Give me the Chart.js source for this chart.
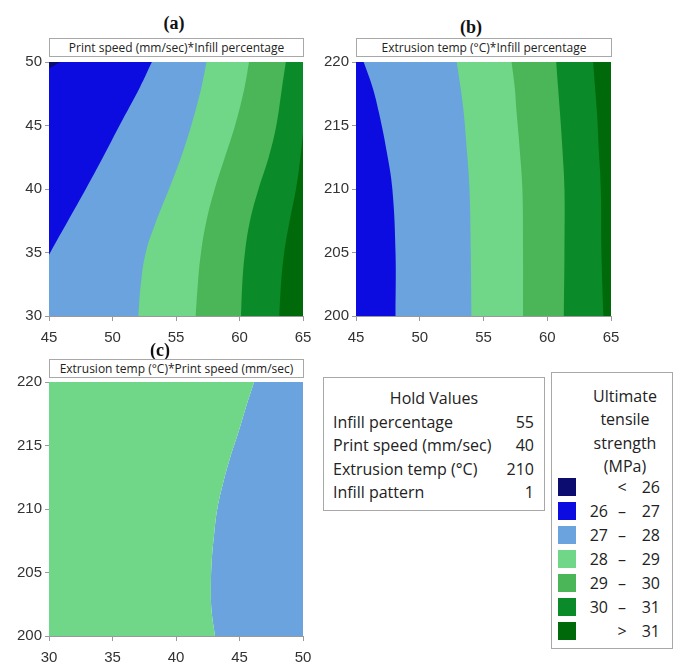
<!DOCTYPE html>
<html>
<head>
<meta charset="utf-8">
<script src="https://cdn.jsdelivr.net/npm/chart.js@4.4.1/dist/chart.umd.min.js"></script>
<style>
  body { margin: 0; background: #fff; font-family: "Open Sans", sans-serif; color: #222; }
  #page { position: relative; width: 680px; height: 662px; overflow: hidden; }
  canvas { position: absolute; }
  .tag { position: absolute; font: bold 18px "Liberation Serif", serif; transform: translate(-50%, -50%); color: #111; }
  .head { position: absolute; height: 19px; border: 1px solid #a8a8a8; box-sizing: border-box; background: #fff;
          font-size: 12px; line-height: 18px; text-align: center; white-space: nowrap; color: #222; }
  .box { position: absolute; border: 1px solid #a8a8a8; box-sizing: border-box; font-size: 16px; background: #fff; }
  .line { position: absolute; white-space: nowrap; line-height: 24px; }
  .sw { position: absolute; width: 18px; height: 18px; }
</style>
</head>
<body>
<div id="page">
  <canvas id="chartA" width="330" height="300" style="left:0;top:50px"></canvas>
  <canvas id="chartB" width="340" height="300" style="left:300px;top:50px"></canvas>
  <canvas id="chartC" width="330" height="300" style="left:0;top:370px"></canvas>

  <div class="tag" style="left:174px;top:23px">(a)</div>
  <div class="tag" style="left:471px;top:27px">(b)</div>
  <div class="tag" style="left:160px;top:350px">(c)</div>

  <div class="head" style="left:49px;top:38px;width:255px">Print speed (mm/sec)*Infill percentage</div>
  <div class="head" style="left:356px;top:38px;width:256px">Extrusion temp (°C)*Infill percentage</div>
  <div class="head" style="left:49px;top:359px;width:255px">Extrusion temp (°C)*Print speed (mm/sec)</div>

  <div id="hold" class="box" style="left:323px;top:377px;width:222px;height:134px"></div>
  <div id="key" class="box" style="left:551px;top:372px;width:122px;height:277px"></div>
</div>
<script>
// band colours, left to right (low to high strength)
const colors = ['#0b0b70', '#0c0ce0', '#6aa3dd', '#6fd787', '#4ab657', '#0a8a29', '#006a0b'];
const keyLabels = [['', '<', '26'], ['26', '–', '27'], ['27', '–', '28'], ['28', '–', '29'],
                   ['29', '–', '30'], ['30', '–', '31'], ['', '>', '31']];
const holdNames = ['Infill percentage', 'Print speed (mm/sec)', 'Extrusion temp (°C)', 'Infill pattern'];
const holdValues = [55, 40, 210, 1];

const infillTicks = [45, 50, 55, 60, 65];
const speedTicks = [30, 35, 40, 45, 50];
const tempTicks = [200, 205, 210, 215, 220];

// (a) print speed vs infill: infill value at the right edge of each band, per print speed
const speedA = [30, 32.5, 35, 37.5, 40, 42.5, 45, 48, 50];
const aNavySpeed = [30, 48, 49.5, 50];
const aNavyEdge = [20, 42.3, 45, 45.9];
const aBlueEdge = [42.4, 43.8, 45.1, 46.5, 47.9, 49.25, 50.55, 52.15, 53.1];
const aLightBlueEdge = [52.03, 52.23, 52.62, 53.45, 54.45, 55.4, 56.2, 57.0, 57.4];
const aLightGreenEdge = [56.55, 56.72, 56.97, 57.4, 58.05, 58.85, 59.65, 60.4, 60.75];
const aMidGreenEdge = [60.12, 60.22, 60.43, 60.83, 61.5, 62.3, 62.9, 63.35, 63.65];
const aGreenSpeed = [30, 32.5, 35, 37.5, 40, 42.5, 44.4, 47, 50];
const aGreenEdge = [63.13, 63.27, 63.52, 63.95, 64.45, 64.8, 65, 65.3, 65.6];

// (b) extrusion temp vs infill
const tempB = [200, 205, 210, 213, 216, 218, 220];
const bBlueEdge = [48.1, 48.1, 47.85, 47.4, 46.8, 46.3, 45.6];
const bLightBlueEdge = [54.05, 54.0, 53.9, 53.7, 53.45, 53.2, 52.9];
const bLightGreenEdge = [58.1, 58.1, 58.05, 57.85, 57.6, 57.45, 57.2];
const bMidGreenEdge = [61.3, 61.35, 61.35, 61.2, 61.0, 60.85, 60.7];
const bGreenEdge = [64.4, 64.25, 64.2, 64.05, 63.9, 63.75, 63.6];

// (c) extrusion temp vs print speed
const tempC = [200, 202, 204, 206, 208, 210, 212, 214, 216, 218, 220];
const cLightGreenEdge = [43.07, 42.8, 42.75, 42.82, 43.0, 43.25, 43.7, 44.25, 44.9, 45.5, 46.15];

const pts = (xs, ys) => xs.map((x, i) => ({ x: x, y: ys[i] }));

function contour(id, bands, topColor, xTicks, yTicks, pad, yWidth) {
  const xMin = xTicks[0], xMax = xTicks[xTicks.length - 1];
  const datasets = bands.map(b => ({
    data: pts(b.x, b.y), fill: { value: xMin }, backgroundColor: b.color
  }));
  // bottom layer: everything right of the first edge
  datasets.push({ data: pts(bands[0].x, bands[0].y), fill: { value: xMax }, backgroundColor: topColor });
  const axis = (ticks, fit, len, padding) => ({
    type: 'linear', min: ticks[0], max: ticks[ticks.length - 1],
    afterBuildTicks: s => { s.ticks = ticks.map(v => ({ value: v })); },
    afterFit: fit,
    grid: { drawOnChartArea: false, drawTicks: true, tickLength: len, color: '#9a9a9a' },
    border: { color: '#9a9a9a' },
    ticks: { color: '#333', padding: padding, maxRotation: 0, autoSkip: false, font: { size: 15 } }
  });
  new Chart(document.getElementById(id), {
    type: 'line',
    data: { datasets: datasets },
    options: {
      indexAxis: 'y',
      responsive: false,
      animation: false,
      events: [],
      layout: { padding: pad },
      elements: {
        line: { borderWidth: 0, tension: 0.4, capBezierPoints: false },
        point: { radius: 0 }
      },
      plugins: { legend: { display: false }, tooltip: { enabled: false } },
      scales: {
        x: axis(xTicks, s => { s.height = 34; s.paddingLeft = 0; s.paddingRight = 0; }, 5, 8),
        y: axis(yTicks, s => { s.width = yWidth; }, 4, 3)
      }
    }
  });
}

contour('chartA', [
  { x: aNavyEdge, y: aNavySpeed, color: colors[0] },
  { x: aBlueEdge, y: speedA, color: colors[1] },
  { x: aLightBlueEdge, y: speedA, color: colors[2] },
  { x: aLightGreenEdge, y: speedA, color: colors[3] },
  { x: aMidGreenEdge, y: speedA, color: colors[4] },
  { x: aGreenEdge, y: aGreenSpeed, color: colors[5] }
], colors[6], infillTicks, speedTicks, { top: 7, right: 27, left: 0, bottom: 0 }, 49);

contour('chartB', [
  { x: bBlueEdge, y: tempB, color: colors[1] },
  { x: bLightBlueEdge, y: tempB, color: colors[2] },
  { x: bLightGreenEdge, y: tempB, color: colors[3] },
  { x: bMidGreenEdge, y: tempB, color: colors[4] },
  { x: bGreenEdge, y: tempB, color: colors[5] }
], colors[6], infillTicks, tempTicks, { top: 7, right: 29, left: 0, bottom: 0 }, 56);

contour('chartC', [
  { x: cLightGreenEdge, y: tempC, color: colors[3] }
], colors[2], speedTicks, tempTicks, { top: 7, right: 27, left: 0, bottom: 0 }, 49);

// hold values box
const hold = document.getElementById('hold');
let html = '<div class="line" style="left:0;width:100%;text-align:center;top:8px">Hold Values</div>';
holdNames.forEach((n, i) => {
  const top = 8 + 23.6 * (i + 1);
  html += `<div class="line" style="left:9px;top:${top}px">${n}</div>` +
          `<div class="line" style="right:10px;top:${top}px">${holdValues[i]}</div>`;
});
hold.innerHTML = html;

// colour key
const key = document.getElementById('key');
let k = '';
['Ultimate', 'tensile', 'strength', '(MPa)'].forEach((t, i) => {
  k += `<div class="line" style="left:25px;width:96px;text-align:center;top:${11 + 23.3 * i}px">${t}</div>`;
});
keyLabels.forEach((l, i) => {
  const top = 102 + 24 * i;
  k += `<div class="sw" style="left:6px;top:${top + 3}px;background:${colors[i]}"></div>` +
       `<div class="line" style="right:64px;top:${top}px">${l[0]}</div>` +
       `<div class="line" style="left:62px;width:16px;text-align:center;top:${top}px">${l[1]}</div>` +
       `<div class="line" style="right:12px;top:${top}px">${l[2]}</div>`;
});
key.innerHTML = k;
</script>
</body>
</html>
